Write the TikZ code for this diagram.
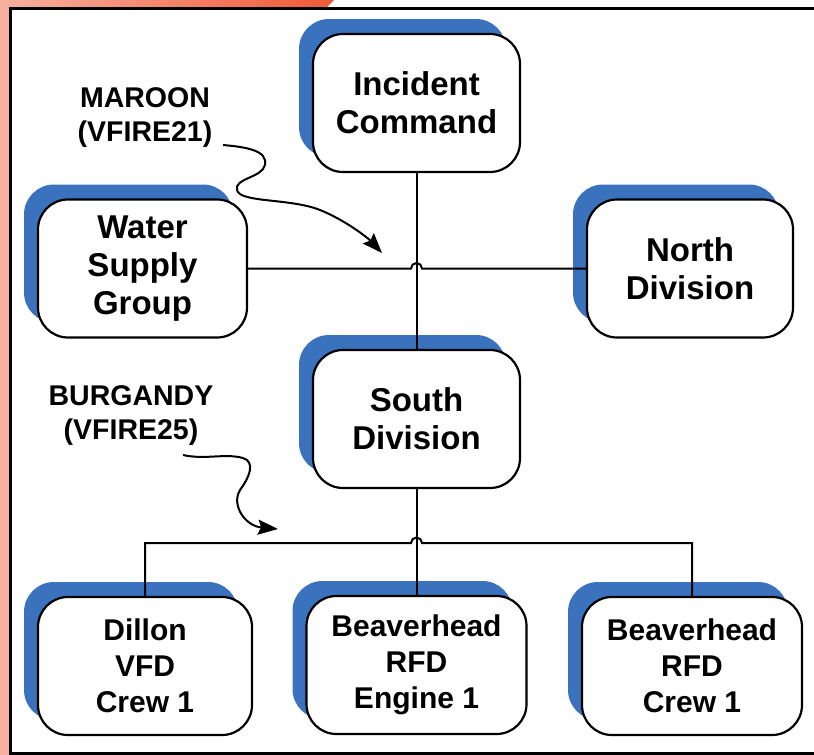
\documentclass[tikz,border=0pt]{standalone}
\usepackage{fontspec}
\setmainfont{Liberation Sans}
\usetikzlibrary{shadows,arrows.meta,calc}
\definecolor{shblue}{RGB}{58,114,190}
\definecolor{salmonL}{RGB}{247,176,160}
\definecolor{salmonR}{RGB}{240,90,55}
\begin{document}
\begin{tikzpicture}[x=1pt,y=-1pt,
  box/.style={draw=black, line width=2.2pt, fill=white, rounded corners=30pt,
    align=center, inner sep=0pt,
    copy shadow={shadow xshift=-14pt, shadow yshift=15pt, fill=shblue, draw=none}},
  topbox/.style={box, font=\fontsize{33}{38}\selectfont\bfseries,
    minimum width=207pt, minimum height=138pt},
  botbox/.style={box, font=\fontsize{30}{36}\selectfont\bfseries,
    minimum width=216pt, minimum height=138pt},
  lbl/.style={align=center, inner sep=0pt, font=\fontsize{28.5}{34}\selectfont\bfseries},
  conn/.style={line width=2pt, black},
  squig/.style={line width=2pt, black, -{Stealth[length=20pt,width=15pt,inset=3pt]}}
]
\useasboundingbox (0,0) rectangle (814,755);
\clip (0,0) rectangle (814,755);
% frame
\fill[salmonL] (0,0) rectangle (9,755);
\shade[left color=salmonL, right color=salmonR] (0,0) -- (334,0) -- (325,9) -- (0,9) -- cycle;
\fill[white] (10,8) rectangle (830,753);
\draw[line width=3pt] (10.5,8) rectangle (830,753);

% boxes
\node[topbox] (ic) at (416.5,103) {Incident\\Command};
\node[topbox, minimum width=209pt] (wsg) at (142.5,268.5) {Water\\Supply\\Group};
\node[topbox, minimum width=206pt] (nd) at (690,268.5) {North\\Division};
\node[topbox] (sd) at (416.5,419) {South\\Division};
\node[botbox, minimum width=214pt] (d1) at (145,666) {Dillon\\VFD\\Crew 1};
\node[botbox, minimum width=220pt] (e1) at (416.5,665) {Beaverhead\\RFD\\Engine 1};
\node[botbox, minimum width=220pt] (c1) at (692,666) {Beaverhead\\RFD\\Crew 1};

% connectors
\draw[conn] (ic.south) -- (sd.north);
\draw[conn] (wsg.east) -- ($(ic.south |- wsg.east)+(-5.5pt,0)$)
  arc[start angle=180, end angle=0, radius=5.5pt] -- (nd.west);
\coordinate (bus) at (416.5,543);
\draw[conn] (sd.south) -- (e1.north);
\draw[conn] (d1.north) -- (d1.north |- bus) -- ($(bus)+(-5.5pt,0)$)
  arc[start angle=180, end angle=0, radius=5.5pt] -- (c1.north |- bus) -- (c1.north);

% labels
\node[lbl] (maroon) at (145,118) {MAROON\\(VFIRE21)};
\node[lbl] (burg) at (131,416) {BURGANDY\\(VFIRE25)};

\coordinate (mS) at (223,145);
\coordinate (mE) at (382,253);
\draw[squig] (mS) .. controls (245,147) and (268,150) .. (265,165)
  .. controls (262,178) and (234,178) .. (237,190)
  .. controls (240,203) and (290,198) .. (320,210)
  .. controls (345,220) and (368,238) .. (mE);
\coordinate (bS) at (183,455);
\coordinate (bE) at (278,529);
\draw[squig] (bS) .. controls (205,460) and (225,453) .. (243,458)
  .. controls (256,462) and (249,478) .. (240,490)
  .. controls (231,505) and (245,526) .. (bE);
\end{tikzpicture}
\end{document}
